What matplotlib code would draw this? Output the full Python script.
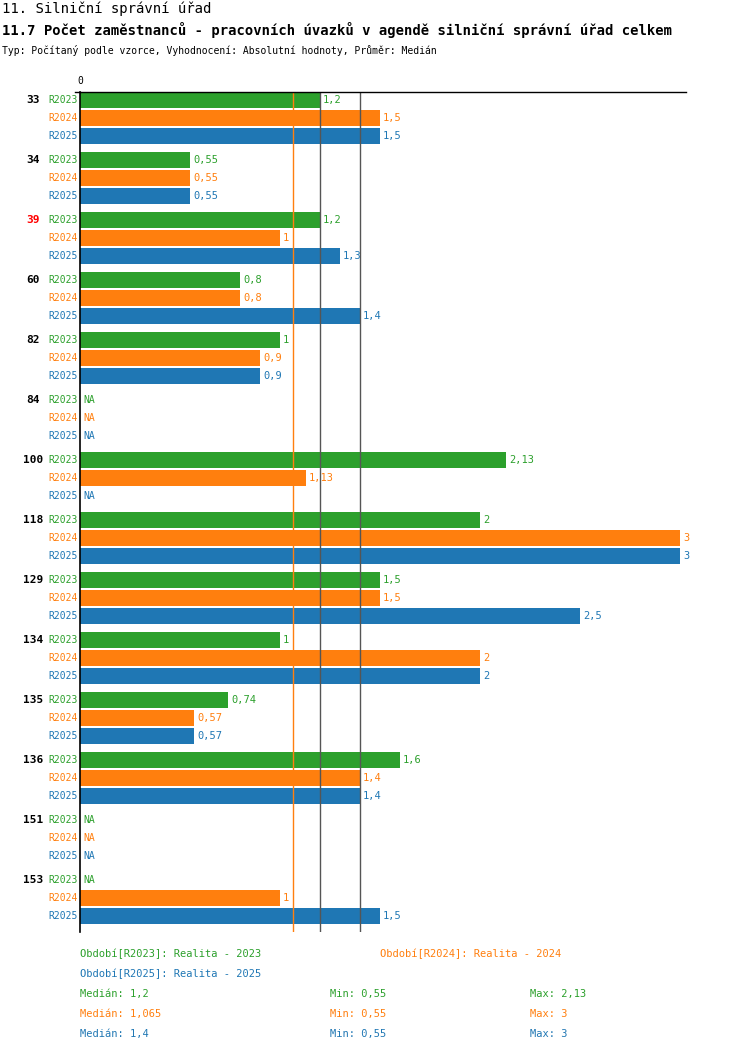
import matplotlib
matplotlib.use("Agg")
import matplotlib.pyplot as plt
import numpy as np

plt.rcParams["font.family"] = ["DejaVu Sans Mono"]

groups = ["33", "34", "39", "60", "82", "84", "100", "118", "129", "134", "135", "136", "151", "153"]
highlight = ["39"]
periods = ["R2023", "R2024", "R2025"]
colors = ["#2ca02c", "#ff7f0e", "#1f77b4"]
nan = np.nan
r2023 = [1.2, 0.55, 1.2, 0.8, 1, nan, 2.13, 2, 1.5, 1, 0.74, 1.6, nan, nan]
r2024 = [1.5, 0.55, 1, 0.8, 0.9, nan, 1.13, 3, 1.5, 2, 0.57, 1.4, nan, 1]
r2025 = [1.5, 0.55, 1.3, 1.4, 0.9, nan, nan, 3, 2.5, 2, 0.57, 1.4, nan, 1.5]
medians = [1.2, 1.065, 1.4]
mins = [0.55, 0.55, 0.55]
maxs = [2.13, 3, 3]
series = [r2023, r2024, r2025]


def fmt(v):
    return f"{v:g}".replace(".", ",")


W, H = 750, 1052
fig = plt.figure(figsize=(W / 100, H / 100), dpi=100)
ax = fig.add_axes([80 / W, 1 - 932 / H, 600 / W, 840 / H])
ax.set_xlim(0, 3)
ax.set_ylim(832, -8)
ax.axis("off")
ax.set_clip_on(False)

# median lines
ax.axvline(medians[1], color="#ff7f0e", lw=1)
ax.axvline(medians[0], color="#555555", lw=1)
ax.axvline(medians[2], color="#555555", lw=1)

for i, g in enumerate(groups):
    for j, (vals, c, p) in enumerate(zip(series, colors, periods)):
        y = 60 * i + 18 * j
        v = vals[i]
        ax.text(-0.01, y, p, color=c, fontsize=7, ha="right", va="center")
        if np.isnan(v):
            ax.text(0.015, y, "NA", color=c, fontsize=7, ha="left", va="center")
        else:
            ax.barh(y, v, height=16, color=c)
            ax.text(v + 0.015, y, fmt(v), color=c, fontsize=7.5, ha="left", va="center")
    ax.text(-0.235, 60 * i, g, color="red" if g in highlight else "black",
            fontsize=8, fontweight="bold", ha="center", va="center")

# axis lines
ax.plot([0, 3.03], [-8, -8], color="black", lw=1, clip_on=False)
ax.plot([0, 0], [-8, 832], color="black", lw=1.2, clip_on=False)
ax.plot([-0.025, 0], [-8, -8], color="black", lw=1, clip_on=False)
ax.text(0, -14, "0", fontsize=7, ha="center", va="bottom")

fig.text(2 / W, 1 - 9 / H, "11. Silniční správní úřad", fontsize=10, va="center")
fig.text(2 / W, 1 - 30 / H, "11.7 Počet zaměstnanců - pracovních úvazků v agendě silniční správní úřad celkem",
         fontsize=10, fontweight="bold", va="center")
fig.text(2 / W, 1 - 50 / H, "Typ: Počítaný podle vzorce, Vyhodnocení: Absolutní hodnoty, Průměr: Medián",
         fontsize=7, va="center")

labels = ["Realita - 2023", "Realita - 2024", "Realita - 2025"]
fig.text(80 / W, 1 - 954 / H, f"Období[{periods[0]}]: {labels[0]}", color=colors[0], fontsize=7.5, va="center")
fig.text(380 / W, 1 - 954 / H, f"Období[{periods[1]}]: {labels[1]}", color=colors[1], fontsize=7.5, va="center")
fig.text(80 / W, 1 - 974 / H, f"Období[{periods[2]}]: {labels[2]}", color=colors[2], fontsize=7.5, va="center")
for k in range(3):
    yy = 1 - (994 + 20 * k) / H
    fig.text(80 / W, yy, f"Medián: {fmt(medians[k])}", color=colors[k], fontsize=7.5, va="center")
    fig.text(330 / W, yy, f"Min: {fmt(mins[k])}", color=colors[k], fontsize=7.5, va="center")
    fig.text(530 / W, yy, f"Max: {fmt(maxs[k])}", color=colors[k], fontsize=7.5, va="center")

fig.savefig("out.png", dpi=100)
